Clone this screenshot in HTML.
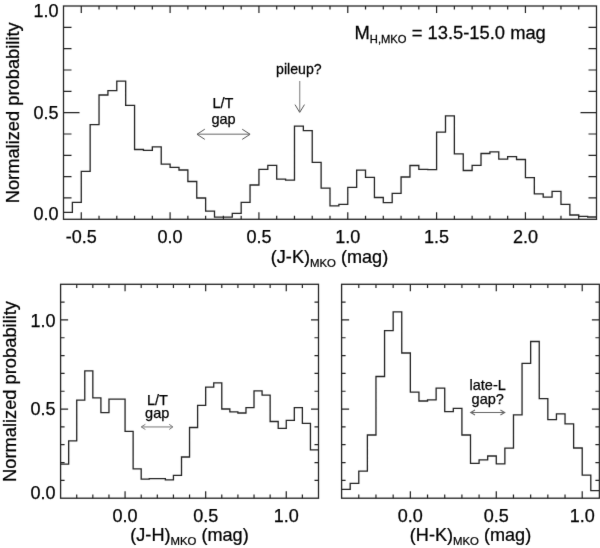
<!DOCTYPE html>
<html><head><meta charset="utf-8"><style>
html,body{margin:0;padding:0;background:#fff;}
body{width:600px;height:548px;overflow:hidden;}
svg{display:block;filter:grayscale(1);}
text{font-family:"Liberation Sans",sans-serif;fill:#000;stroke:#000;stroke-width:0.25px;}
.ax{fill:none;stroke:#222;stroke-width:1.3;}
.tk{fill:none;stroke:#222;stroke-width:1.2;}
.h{fill:none;stroke:#222;stroke-width:1.3;stroke-linejoin:miter;}
.ar{fill:none;stroke:#555;stroke-width:0.9;}
</style></head><body>
<svg width="600" height="548" viewBox="0 0 600 548">
<defs><filter id="sf" x="-5%" y="-5%" width="110%" height="110%"><feConvolveMatrix order="3" kernelMatrix="0.0049 0.0602 0.0049 0.0602 0.7396 0.0602 0.0049 0.0602 0.0049" edgeMode="duplicate"/></filter></defs>
<rect width="600" height="548" fill="#fff"/>
<g filter="url(#sf)">
<rect x="63.5" y="6" width="533" height="213.3" class="ax"/>
<path d="M81.27 219.3 v-7 M81.27 6 v7 M99.03 219.3 v-3.5 M99.03 6 v3.5 M116.8 219.3 v-3.5 M116.8 6 v3.5 M134.57 219.3 v-3.5 M134.57 6 v3.5 M152.33 219.3 v-3.5 M152.33 6 v3.5 M170.1 219.3 v-7 M170.1 6 v7 M187.87 219.3 v-3.5 M187.87 6 v3.5 M205.63 219.3 v-3.5 M205.63 6 v3.5 M223.4 219.3 v-3.5 M223.4 6 v3.5 M241.17 219.3 v-3.5 M241.17 6 v3.5 M258.93 219.3 v-7 M258.93 6 v7 M276.7 219.3 v-3.5 M276.7 6 v3.5 M294.47 219.3 v-3.5 M294.47 6 v3.5 M312.23 219.3 v-3.5 M312.23 6 v3.5 M330 219.3 v-3.5 M330 6 v3.5 M347.77 219.3 v-7 M347.77 6 v7 M365.53 219.3 v-3.5 M365.53 6 v3.5 M383.3 219.3 v-3.5 M383.3 6 v3.5 M401.07 219.3 v-3.5 M401.07 6 v3.5 M418.83 219.3 v-3.5 M418.83 6 v3.5 M436.6 219.3 v-7 M436.6 6 v7 M454.37 219.3 v-3.5 M454.37 6 v3.5 M472.13 219.3 v-3.5 M472.13 6 v3.5 M489.9 219.3 v-3.5 M489.9 6 v3.5 M507.67 219.3 v-3.5 M507.67 6 v3.5 M525.43 219.3 v-7 M525.43 6 v7 M543.2 219.3 v-3.5 M543.2 6 v3.5 M560.97 219.3 v-3.5 M560.97 6 v3.5 M578.73 219.3 v-3.5 M578.73 6 v3.5 M63.5 197.97 h8 M596.5 197.97 h-8 M63.5 176.64 h8 M596.5 176.64 h-8 M63.5 155.31 h8 M596.5 155.31 h-8 M63.5 133.98 h8 M596.5 133.98 h-8 M63.5 112.65 h16 M596.5 112.65 h-16 M63.5 91.32 h8 M596.5 91.32 h-8 M63.5 69.99 h8 M596.5 69.99 h-8 M63.5 48.66 h8 M596.5 48.66 h-8 M63.5 27.33 h8 M596.5 27.33 h-8" class="tk"/>
<path d="M63.5 212.3 L72.38 212.3 L72.38 202.4 L81.27 202.4 L81.27 171.3 L90.15 171.3 L90.15 124.7 L99.03 124.7 L99.03 95 L107.92 95 L107.92 90.6 L116.8 90.6 L116.8 81.2 L125.68 81.2 L125.68 105.4 L134.57 105.4 L134.57 149.5 L143.45 149.5 L143.45 150.4 L152.33 150.4 L152.33 146.8 L161.22 146.8 L161.22 164.2 L170.1 164.2 L170.1 167.3 L178.98 167.3 L178.98 170 L187.87 170 L187.87 181.5 L196.75 181.5 L196.75 198 L205.63 198 L205.63 211.2 L214.52 211.2 L214.52 217.2 L223.4 217.2 L223.4 217.2 L232.28 217.2 L232.28 213.3 L241.17 213.3 L241.17 202.4 L250.05 202.4 L250.05 185 L258.93 185 L258.93 169.3 L267.82 169.3 L267.82 165.4 L276.7 165.4 L276.7 179.1 L285.58 179.1 L285.58 180.1 L294.47 180.1 L294.47 126.2 L303.35 126.2 L303.35 130.6 L312.23 130.6 L312.23 162.4 L321.12 162.4 L321.12 188.1 L330 188.1 L330 205.9 L338.88 205.9 L338.88 204.3 L347.77 204.3 L347.77 187.4 L356.65 187.4 L356.65 170.2 L365.53 170.2 L365.53 177.3 L374.42 177.3 L374.42 197.5 L383.3 197.5 L383.3 202.6 L392.18 202.6 L392.18 193.4 L401.07 193.4 L401.07 177 L409.95 177 L409.95 165.5 L418.83 165.5 L418.83 169.4 L427.72 169.4 L427.72 169.7 L436.6 169.7 L436.6 132.1 L445.48 132.1 L445.48 115.9 L454.37 115.9 L454.37 153.8 L463.25 153.8 L463.25 170.5 L472.13 170.5 L472.13 165.3 L481.02 165.3 L481.02 153.5 L489.9 153.5 L489.9 151.8 L498.78 151.8 L498.78 159.2 L507.67 159.2 L507.67 156.6 L516.55 156.6 L516.55 159.5 L525.43 159.5 L525.43 177.7 L534.32 177.7 L534.32 193.8 L543.2 193.8 L543.2 197.2 L552.08 197.2 L552.08 191.4 L560.97 191.4 L560.97 204.4 L569.85 204.4 L569.85 215 L578.73 215 L578.73 216.4 L587.62 216.4 L587.62 217 L596.5 217" class="h"/>
<rect x="60.6" y="284.3" width="257.9" height="213.9" class="ax"/>
<path d="M76.72 498.2 v-3.8 M76.72 284.3 v3.8 M92.84 498.2 v-3.8 M92.84 284.3 v3.8 M108.96 498.2 v-3.8 M108.96 284.3 v3.8 M125.07 498.2 v-7 M125.07 284.3 v7 M141.19 498.2 v-3.8 M141.19 284.3 v3.8 M157.31 498.2 v-3.8 M157.31 284.3 v3.8 M173.43 498.2 v-3.8 M173.43 284.3 v3.8 M189.55 498.2 v-3.8 M189.55 284.3 v3.8 M205.67 498.2 v-7 M205.67 284.3 v7 M221.79 498.2 v-3.8 M221.79 284.3 v3.8 M237.91 498.2 v-3.8 M237.91 284.3 v3.8 M254.03 498.2 v-3.8 M254.03 284.3 v3.8 M270.14 498.2 v-3.8 M270.14 284.3 v3.8 M286.26 498.2 v-7 M286.26 284.3 v7 M302.38 498.2 v-3.8 M302.38 284.3 v3.8 M60.6 480.38 h4 M318.5 480.38 h-4 M60.6 462.55 h4 M318.5 462.55 h-4 M60.6 444.72 h4 M318.5 444.72 h-4 M60.6 426.9 h4 M318.5 426.9 h-4 M60.6 409.07 h7.5 M318.5 409.07 h-7.5 M60.6 391.25 h4 M318.5 391.25 h-4 M60.6 373.43 h4 M318.5 373.43 h-4 M60.6 355.6 h4 M318.5 355.6 h-4 M60.6 337.77 h4 M318.5 337.77 h-4 M60.6 319.95 h7.5 M318.5 319.95 h-7.5 M60.6 302.12 h4 M318.5 302.12 h-4" class="tk"/>
<path d="M60.6 464.2 L68.66 464.2 L68.66 440.9 L76.72 440.9 L76.72 400.2 L84.78 400.2 L84.78 370.9 L92.84 370.9 L92.84 397.9 L100.9 397.9 L100.9 412.6 L108.96 412.6 L108.96 399.2 L117.02 399.2 L117.02 399.2 L125.07 399.2 L125.07 431.4 L133.13 431.4 L133.13 468.8 L141.19 468.8 L141.19 479.1 L149.25 479.1 L149.25 478.6 L157.31 478.6 L157.31 478.6 L165.37 478.6 L165.37 479.8 L173.43 479.8 L173.43 475.3 L181.49 475.3 L181.49 457 L189.55 457 L189.55 427.5 L197.61 427.5 L197.61 405.4 L205.67 405.4 L205.67 387.2 L213.73 387.2 L213.73 382.8 L221.79 382.8 L221.79 409 L229.85 409 L229.85 411.9 L237.91 411.9 L237.91 413 L245.97 413 L245.97 407.7 L254.02 407.7 L254.02 390.9 L262.08 390.9 L262.08 395.1 L270.14 395.1 L270.14 421.5 L278.2 421.5 L278.2 428.3 L286.26 428.3 L286.26 420.4 L294.32 420.4 L294.32 407.7 L302.38 407.7 L302.38 423.4 L310.44 423.4 L310.44 449.8 L318.5 449.8" class="h"/>
<rect x="341.6" y="284.3" width="257.8" height="213.9" class="ax"/>
<path d="M358.79 498.2 v-3.8 M358.79 284.3 v3.8 M375.97 498.2 v-3.8 M375.97 284.3 v3.8 M393.16 498.2 v-3.8 M393.16 284.3 v3.8 M410.35 498.2 v-7 M410.35 284.3 v7 M427.53 498.2 v-3.8 M427.53 284.3 v3.8 M444.72 498.2 v-3.8 M444.72 284.3 v3.8 M461.91 498.2 v-3.8 M461.91 284.3 v3.8 M479.09 498.2 v-3.8 M479.09 284.3 v3.8 M496.28 498.2 v-7 M496.28 284.3 v7 M513.47 498.2 v-3.8 M513.47 284.3 v3.8 M530.65 498.2 v-3.8 M530.65 284.3 v3.8 M547.84 498.2 v-3.8 M547.84 284.3 v3.8 M565.03 498.2 v-3.8 M565.03 284.3 v3.8 M582.21 498.2 v-7 M582.21 284.3 v7 M341.6 480.38 h4 M599.4 480.38 h-4 M341.6 462.55 h4 M599.4 462.55 h-4 M341.6 444.72 h4 M599.4 444.72 h-4 M341.6 426.9 h4 M599.4 426.9 h-4 M341.6 409.07 h7.5 M599.4 409.07 h-7.5 M341.6 391.25 h4 M599.4 391.25 h-4 M341.6 373.43 h4 M599.4 373.43 h-4 M341.6 355.6 h4 M599.4 355.6 h-4 M341.6 337.77 h4 M599.4 337.77 h-4 M341.6 319.95 h7.5 M599.4 319.95 h-7.5 M341.6 302.12 h4 M599.4 302.12 h-4" class="tk"/>
<path d="M341.6 489.4 L350.19 489.4 L350.19 483.4 L358.79 483.4 L358.79 471.2 L367.38 471.2 L367.38 435 L375.97 435 L375.97 376.5 L384.57 376.5 L384.57 330.7 L393.16 330.7 L393.16 311.9 L401.75 311.9 L401.75 353 L410.35 353 L410.35 392.1 L418.94 392.1 L418.94 401 L427.53 401 L427.53 399.9 L436.13 399.9 L436.13 388.2 L444.72 388.2 L444.72 411.6 L453.31 411.6 L453.31 408.3 L461.91 408.3 L461.91 435 L470.5 435 L470.5 463.3 L479.09 463.3 L479.09 459.8 L487.69 459.8 L487.69 456 L496.28 456 L496.28 463.8 L504.87 463.8 L504.87 448.1 L513.47 448.1 L513.47 414.8 L522.06 414.8 L522.06 363.3 L530.65 363.3 L530.65 341.5 L539.25 341.5 L539.25 398.6 L547.84 398.6 L547.84 419.6 L556.43 419.6 L556.43 413.8 L565.03 413.8 L565.03 423.9 L573.62 423.9 L573.62 448 L582.21 448 L582.21 475.1 L590.81 475.1 L590.81 490.7 L599.4 490.7" class="h"/>
<text x="58.5" y="16.6" font-size="18" text-anchor="end">1.0</text>
<text x="58.5" y="119.4" font-size="18" text-anchor="end">0.5</text>
<text x="58.5" y="220.3" font-size="18" text-anchor="end">0.0</text>
<text x="81.27" y="242.5" font-size="18" text-anchor="middle">-0.5</text>
<text x="170.1" y="242.5" font-size="18" text-anchor="middle">0.0</text>
<text x="258.93" y="242.5" font-size="18" text-anchor="middle">0.5</text>
<text x="347.77" y="242.5" font-size="18" text-anchor="middle">1.0</text>
<text x="436.6" y="242.5" font-size="18" text-anchor="middle">1.5</text>
<text x="525.43" y="242.5" font-size="18" text-anchor="middle">2.0</text>
<text x="55.5" y="326.6" font-size="18" text-anchor="end">1.0</text>
<text x="55.5" y="414.9" font-size="18" text-anchor="end">0.5</text>
<text x="55.5" y="498.9" font-size="18" text-anchor="end">0.0</text>
<text x="125.07" y="521.5" font-size="18" text-anchor="middle">0.0</text>
<text x="205.67" y="521.5" font-size="18" text-anchor="middle">0.5</text>
<text x="286.26" y="521.5" font-size="18" text-anchor="middle">1.0</text>
<text x="410.35" y="521.5" font-size="18" text-anchor="middle">0.0</text>
<text x="496.28" y="521.5" font-size="18" text-anchor="middle">0.5</text>
<text x="582.21" y="521.5" font-size="18" text-anchor="middle">1.0</text>
<text transform="translate(18.9 112.8) rotate(-90)" font-size="18" text-anchor="middle" textLength="181" lengthAdjust="spacingAndGlyphs">Normalized probability</text>
<text transform="translate(16.3 391.5) rotate(-90)" font-size="18" text-anchor="middle" textLength="181" lengthAdjust="spacingAndGlyphs">Normalized probability</text>
<text transform="translate(329.5 263.3) scale(1.035 1)" font-size="17.5" text-anchor="middle">(J-K)<tspan font-size="11" dy="3.5">MKO</tspan><tspan dy="-3.5"> (mag)</tspan></text>
<text transform="translate(189.5 541.2) scale(1.035 1)" font-size="17.5" text-anchor="middle">(J-H)<tspan font-size="11" dy="3.5">MKO</tspan><tspan dy="-3.5"> (mag)</tspan></text>
<text transform="translate(470.5 541.2) scale(1.035 1)" font-size="17.5" text-anchor="middle">(H-K)<tspan font-size="11" dy="3.5">MKO</tspan><tspan dy="-3.5"> (mag)</tspan></text>
<text transform="translate(354.5 39.3) scale(1.02 1)" font-size="18">M<tspan font-size="11" dy="3.5">H,MKO</tspan><tspan dy="-3.5"> = 13.5-15.0 mag</tspan></text>
<text transform="translate(298.9 74.2) scale(1.0100 1)" font-size="14" text-anchor="middle">pileup?</text>
<path d="M299.7 81 V111.8" style="fill:none;stroke:#999;stroke-width:1.3"/>
<path d="M295 104.6 L299.7 112.4 L304.5 104.6" style="fill:none;stroke:#555;stroke-width:1.0"/>
<text x="223" y="108.3" font-size="14.5" text-anchor="middle">L/T</text>
<text x="223.5" y="123.6" font-size="14.5" text-anchor="middle">gap</text>
<path d="M197.5 134.3 H249.5" style="fill:none;stroke:#999;stroke-width:1.4"/>
<path d="M204.8 129.2 L197 134.3 L204.8 139.4 M242.2 129.2 L250.1 134.3 L242.2 139.4" style="fill:none;stroke:#555;stroke-width:1.0"/>
<text x="157.5" y="405" font-size="14.5" text-anchor="middle">L/T</text>
<text x="157.2" y="418" font-size="14.5" text-anchor="middle">gap</text>
<path d="M141.6 426.9 H172.4" style="fill:none;stroke:#aaa;stroke-width:1.6"/>
<path d="M145.4 424.3 L141.2 426.9 L145.4 429.5 M169.2 424.3 L172.9 426.9 L169.2 429.5" style="fill:none;stroke:#777;stroke-width:1.0"/>
<text x="487.7" y="389.9" font-size="14.5" text-anchor="middle">late-L</text>
<text x="487.7" y="403.9" font-size="14.5" text-anchor="middle">gap?</text>
<path d="M470.7 412.5 H504.7 M475 410 L470.7 412.5 L475 415 M500.4 410 L504.7 412.5 L500.4 415" style="fill:none;stroke:#666;stroke-width:1.1"/>
</g>
</svg>
</body></html>
